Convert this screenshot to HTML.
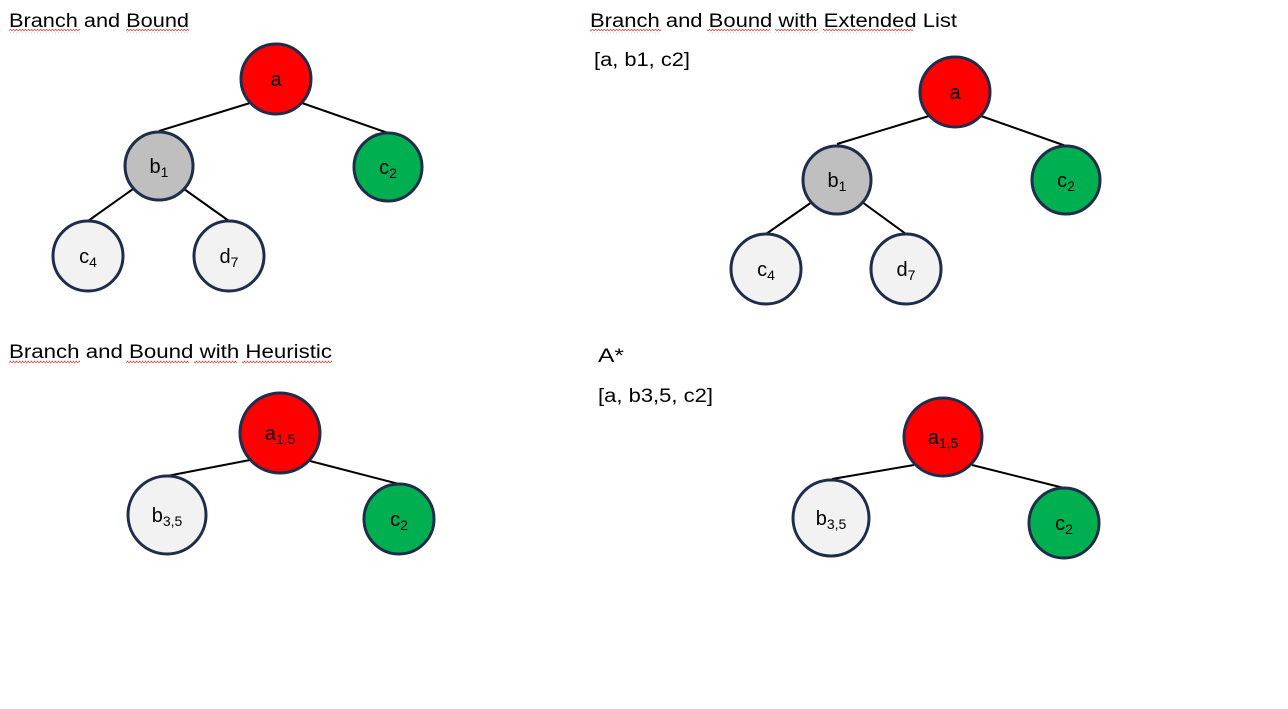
<!DOCTYPE html>
<html><head><meta charset="utf-8"><style>
html,body{margin:0;padding:0;background:#fff;}
svg{display:block;font-family:"Liberation Sans",sans-serif;}
</style></head><body>
<svg width="1288" height="709" viewBox="0 0 1288 709" xmlns="http://www.w3.org/2000/svg">
<defs>
<pattern id="sq" width="6" height="4" patternUnits="userSpaceOnUse"><path d="M0 3 L1.5 1 L3 3 L4.5 1 L6 3" stroke="#e05050" stroke-width="0.8" fill="none"/></pattern>
</defs>
<g font-size="19" fill="#000">
<text x="9" y="27" textLength="180" lengthAdjust="spacingAndGlyphs">Branch and Bound</text>
<text x="590" y="27" textLength="367" lengthAdjust="spacingAndGlyphs">Branch and Bound with Extended List</text>
<text x="594" y="66" textLength="96" lengthAdjust="spacingAndGlyphs">[a, b1, c2]</text>
<text x="9" y="358" textLength="323" lengthAdjust="spacingAndGlyphs">Branch and Bound with Heuristic</text>
<text x="598" y="362" textLength="26" lengthAdjust="spacingAndGlyphs">A*</text>
<text x="598" y="402" textLength="115" lengthAdjust="spacingAndGlyphs">[a, b3,5, c2]</text>
</g>
<g fill="url(#sq)">
<rect x="9" y="29" width="71" height="4"/><rect x="126" y="29" width="63" height="4"/>
<rect x="590" y="29" width="71" height="4"/><rect x="707" y="29" width="63" height="4"/><rect x="775" y="29" width="43" height="4"/><rect x="823" y="29" width="90" height="4"/>
<rect x="9" y="360" width="71" height="4"/><rect x="126" y="360" width="63" height="4"/><rect x="194" y="360" width="43" height="4"/><rect x="242" y="360" width="90" height="4"/>
</g>
<g stroke="#000" stroke-width="2">
<line x1="250" y1="103" x2="159" y2="131"/><line x1="302" y1="103" x2="388" y2="133"/>
<line x1="133" y1="189" x2="88" y2="221"/><line x1="184" y1="189" x2="229" y2="221"/>
<line x1="929" y1="116" x2="837" y2="144"/><line x1="981" y1="116" x2="1066" y2="146"/>
<line x1="812" y1="202" x2="766" y2="234"/><line x1="862" y1="202" x2="906" y2="234"/>
<line x1="250" y1="460" x2="167" y2="476"/><line x1="310" y1="461" x2="399" y2="484"/>
<line x1="914" y1="465" x2="832" y2="479"/><line x1="972" y1="465" x2="1064" y2="488"/>
</g>
<g stroke="#1f2d4d" stroke-width="3">
<circle cx="276" cy="79" r="35" fill="#ff0000"/>
<circle cx="159" cy="166" r="34" fill="#bfbfbf"/>
<circle cx="388" cy="167" r="34" fill="#00b050"/>
<circle cx="88" cy="256" r="35" fill="#f2f2f2"/>
<circle cx="229" cy="256" r="35" fill="#f2f2f2"/>
<circle cx="955" cy="92" r="35" fill="#ff0000"/>
<circle cx="837" cy="180" r="34" fill="#bfbfbf"/>
<circle cx="1066" cy="180" r="34" fill="#00b050"/>
<circle cx="766" cy="269" r="35" fill="#f2f2f2"/>
<circle cx="906" cy="269" r="35" fill="#f2f2f2"/>
<circle cx="280" cy="433" r="40" fill="#ff0000"/>
<circle cx="167" cy="515" r="39" fill="#f2f2f2"/>
<circle cx="399" cy="519" r="35" fill="#00b050"/>
<circle cx="943" cy="437" r="39" fill="#ff0000"/>
<circle cx="831" cy="518" r="38" fill="#f2f2f2"/>
<circle cx="1064" cy="523" r="35" fill="#00b050"/>
</g>
<g font-size="20" fill="#000" text-anchor="middle">
<text x="276" y="86">a</text>
<text x="159" y="173">b<tspan font-size="14" dy="4">1</tspan></text>
<text x="388" y="174">c<tspan font-size="14" dy="4">2</tspan></text>
<text x="88" y="263">c<tspan font-size="14" dy="4">4</tspan></text>
<text x="229" y="263">d<tspan font-size="14" dy="4">7</tspan></text>
<text x="955" y="99">a</text>
<text x="837" y="187">b<tspan font-size="14" dy="4">1</tspan></text>
<text x="1066" y="187">c<tspan font-size="14" dy="4">2</tspan></text>
<text x="766" y="276">c<tspan font-size="14" dy="4">4</tspan></text>
<text x="906" y="276">d<tspan font-size="14" dy="4">7</tspan></text>
<text x="280" y="440">a<tspan font-size="14" dy="4">1,5</tspan></text>
<text x="167" y="522">b<tspan font-size="14" dy="4">3,5</tspan></text>
<text x="399" y="526">c<tspan font-size="14" dy="4">2</tspan></text>
<text x="943" y="444">a<tspan font-size="14" dy="4">1,5</tspan></text>
<text x="831" y="525">b<tspan font-size="14" dy="4">3,5</tspan></text>
<text x="1064" y="530">c<tspan font-size="14" dy="4">2</tspan></text>
</g>
</svg>
</body></html>
